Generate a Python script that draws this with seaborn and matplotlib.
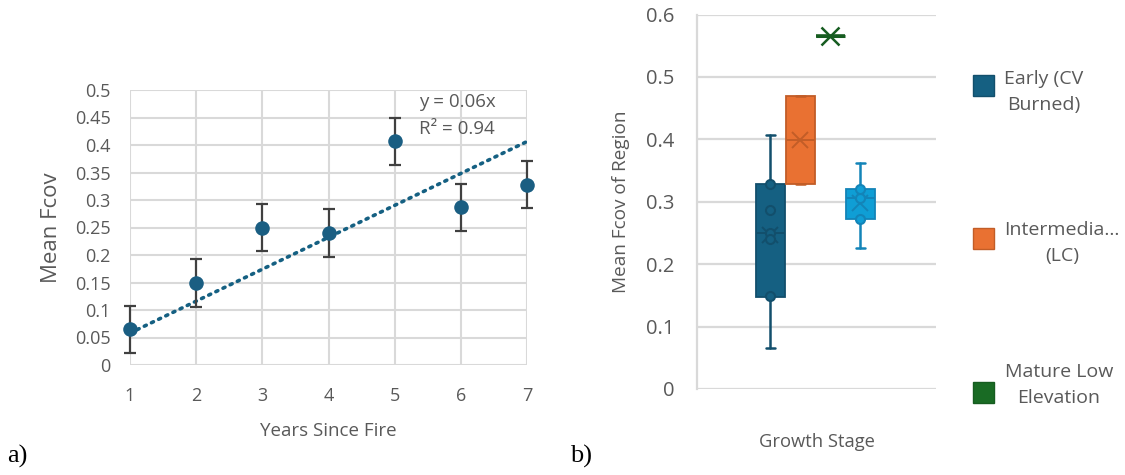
import numpy as np
import matplotlib
matplotlib.use("Agg")
import matplotlib.pyplot as plt
import seaborn as sns

# ---------------- data ----------------
years = [1, 2, 3, 4, 5, 6, 7]
mean_fcov = [0.065, 0.149, 0.250, 0.240, 0.407, 0.287, 0.328]
fcov_err = [0.043, 0.043, 0.043, 0.043, 0.043, 0.043, 0.043]
a_yticks = [0, 0.05, 0.1, 0.15, 0.2, 0.25, 0.3, 0.35, 0.4, 0.45, 0.5]
a_xticks = [1, 2, 3, 4, 5, 6, 7]

stage_labels = ["Early (CV\nBurned)", "Intermedia...\n(LC)", "Mature Low\nElevation\n(MLCW)", "Mature High"]
early_vals = mean_fcov
intermediate_vals = [0.328, 0.470]
mature_low_vals = [0.566]
mature_high_vals = [0.2265, 0.272, 0.3056, 0.321, 0.362]
box_q1 = [0.148, 0.328, 0.566, 0.272]
box_q3 = [0.328, 0.470, 0.566, 0.321]
b_yticks = [0, 0.1, 0.2, 0.3, 0.4, 0.5, 0.6]

# ---------------- style ----------------
sns.set_theme(style="white")
plt.rcParams["font.family"] = ["Open Sans", "DejaVu Sans"]
TXT = "#595959"
GRID = "#d9d9d9"
DOT = "#156082"

fig = plt.figure(figsize=(11.25, 4.75), dpi=100)

# ---------------- panel a ----------------
axa = fig.add_axes([130 / 1125, 1 - 365 / 475, 397 / 1125, 275 / 475])
axa.set_xlim(1, 7)
axa.set_ylim(0, 0.5)
axa.set_xticks(a_xticks)
axa.set_yticks(a_yticks)
axa.set_yticklabels([f"{v:g}" for v in a_yticks])
axa.grid(True, color=GRID, linewidth=1.5)
axa.set_axisbelow(True)
for s in axa.spines.values():
    s.set_visible(False)
axa.tick_params(axis="both", length=0, labelsize=13, labelcolor=TXT)
axa.tick_params(axis="y", pad=14)
axa.tick_params(axis="x", pad=16)

yrs = np.array(years, dtype=float)
vals = np.array(mean_fcov)
slope = np.sum(yrs * vals) / np.sum(yrs ** 2)
xs = np.array([years[0], years[-1]], dtype=float)
axa.plot(xs, slope * xs, color=DOT, linewidth=2.6, linestyle=(0, (0.6, 1.6)),
         dash_capstyle="round", zorder=2)
axa.errorbar(years, mean_fcov, yerr=fcov_err, fmt="none", ecolor="#404040",
             elinewidth=1.6, capsize=4.5, capthick=1.6, zorder=3, clip_on=False)
sns.scatterplot(x=years, y=mean_fcov, ax=axa, color="#1a5e82", s=110,
                edgecolor="#1a5e82", linewidth=0, zorder=4, clip_on=False, legend=False)
axa.text(0.728, 0.99, f"y = {slope:.2f}x", transform=axa.transAxes, fontsize=13.5,
         color=TXT, ha="left", va="top")
axa.text(0.728, 0.89, "R² = 0.94", transform=axa.transAxes, fontsize=13.5,
         color=TXT, ha="left", va="top")
axa.set_ylabel("Mean Fcov", fontsize=16, color=TXT, labelpad=9)
axa.set_xlabel("Years Since Fire", fontsize=13.5, color=TXT, labelpad=12)

# ---------------- panel b ----------------
axb = fig.add_axes([697 / 1125, 1 - 389 / 475, 239 / 1125, 374.4 / 475])
axb.set_xlim(0, 1)
axb.set_ylim(0, 0.6)
axb.set_yticks(b_yticks)
axb.set_yticklabels([f"{v:g}" for v in b_yticks])
axb.set_xticks([])
axb.yaxis.grid(True, color=GRID, linewidth=1.6)
axb.set_axisbelow(True)
for k, s in axb.spines.items():
    s.set_visible(k == "left")
axb.spines["left"].set_color(GRID)
axb.spines["left"].set_linewidth(1.6)
axb.tick_params(axis="y", length=0, labelsize=14.5, labelcolor=TXT, pad=16)
axb.set_ylabel("Mean Fcov of Region", fontsize=13.7, color=TXT, labelpad=12)
axb.set_xlabel("Growth Stage", fontsize=13.2, color=TXT, labelpad=32)

groups = [early_vals, intermediate_vals, mature_low_vals, mature_high_vals]
positions = [0.307, 0.433, 0.558, 0.684]
fills = ["#156082", "#E97132", "#196B24", "#0F9ED5"]
edges = ["#124f6c", "#c25d27", "#165c20", "#1384b8"]
stats = []
for g, q1, q3 in zip(groups, box_q1, box_q3):
    stats.append(dict(med=float(np.median(g)), q1=q1, q3=q3,
                      whislo=float(np.min(g)), whishi=float(np.max(g)),
                      mean=float(np.mean(g)), fliers=[]))
bp = axb.bxp(stats, positions=positions, widths=0.121, patch_artist=True,
             showmeans=True, meanline=False, showfliers=False, manage_ticks=False,
             capwidths=0.036)
for i, (fc, ec) in enumerate(zip(fills, edges)):
    lw = 2.2 if i == 2 else 1.3
    bp["boxes"][i].set(facecolor=fc, edgecolor=ec, linewidth=lw)
    bp["medians"][i].set(color=ec, linewidth=2.6 if i == 2 else 1.4)
    for w in bp["whiskers"][2 * i:2 * i + 2]:
        w.set(color=ec, linewidth=1.8)
    for c in bp["caps"][2 * i:2 * i + 2]:
        c.set(color=ec, linewidth=1.8)
    bp["means"][i].set(marker="x", markersize=12 if i != 2 else 13,
                       markeredgecolor=ec, markeredgewidth=1.4 if i != 2 else 1.8)
    g = np.array(groups[i])
    inner = g[(g > g.min()) & (g < g.max())]
    if len(inner):
        axb.plot([positions[i]] * len(inner), inner, linestyle="none", marker="o",
                 markersize=6.5, markerfacecolor=fc, markeredgecolor=ec,
                 markeredgewidth=1.5, zorder=5)

# legend (manual, as in the reference)
leg_y = [86, 239, 393]
leg_x_center = [1044, 1062, 1059]
for i in range(3):
    fig.patches.append(plt.Rectangle((973 / 1125, 1 - (leg_y[i] + 10) / 475), 21 / 1125, 21 / 475,
                                     transform=fig.transFigure, facecolor=fills[i],
                                     edgecolor=edges[i], linewidth=1))
text_centers = [92, 243, 398]
for i in range(3):
    fig.text(leg_x_center[i] / 1125, 1 - text_centers[i] / 475, stage_labels[i],
             fontsize=14, color=TXT, ha="center", va="center", linespacing=1.6,
             multialignment="center", zorder=3)
# the reference legend area is cut off below its last visible line
fig.add_artist(plt.Rectangle((1000 / 1125, 0), 125 / 1125, (475 - 416) / 475,
                             transform=fig.transFigure, facecolor="white",
                             edgecolor="none", zorder=10))

# panel tags
fig.text(7 / 1125, 1 - 456 / 475, "a)", fontsize=19, family="Liberation Serif",
         color="black", va="center", ha="left")
fig.text(570 / 1125, 1 - 456 / 475, "b)", fontsize=19, family="Liberation Serif",
         color="black", va="center", ha="left")

fig.savefig("out.png", dpi=100, facecolor="white")
